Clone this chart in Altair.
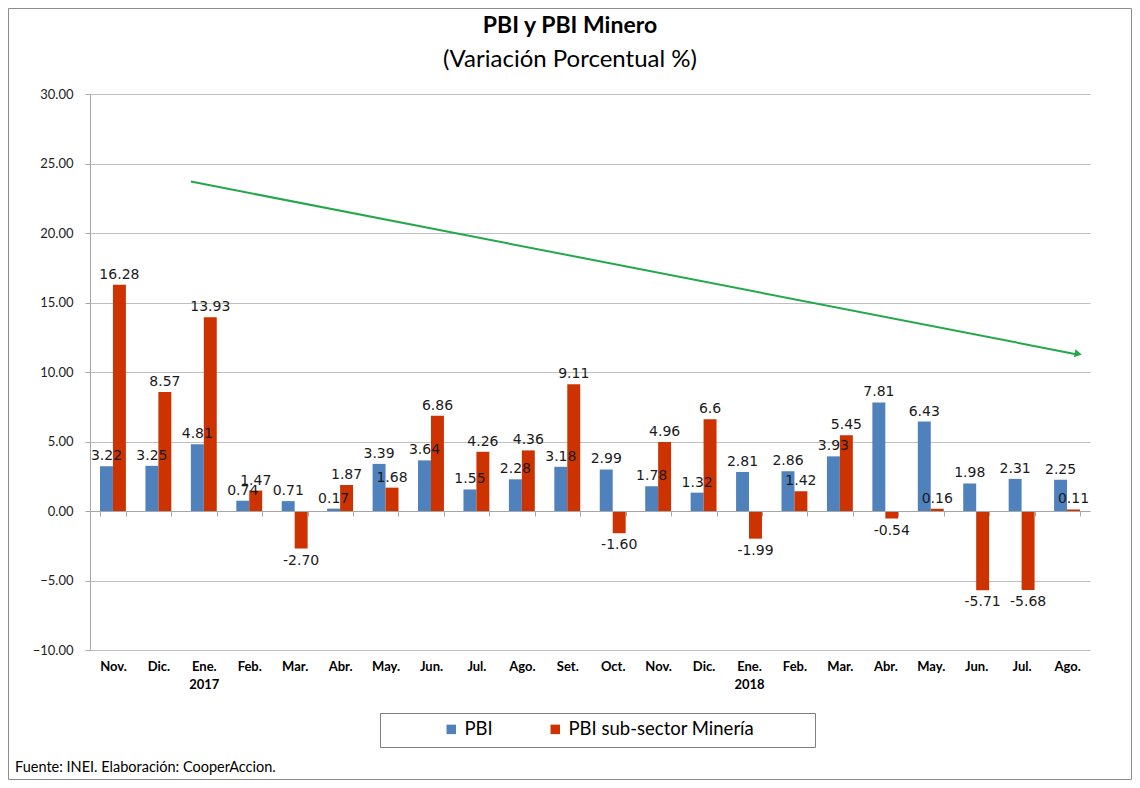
import json
import altair as alt
import pandas as pd

# ---------------- data ----------------
months = ["Nov.", "Dic.", "Ene.|2017", "Feb.", "Mar.", "Abr.", "May.", "Jun.", "Jul.",
          "Ago.", "Set.", "Oct.", "Nov.", "Dic.", "Ene.|2018", "Feb.", "Mar.", "Abr.",
          "May.", "Jun.", "Jul.", "Ago."]
pbi = [3.22, 3.25, 4.81, 0.74, 0.71, 0.17, 3.39, 3.64, 1.55, 2.28, 3.18, 2.99,
       1.78, 1.32, 2.81, 2.86, 3.93, 7.81, 6.43, 1.98, 2.31, 2.25]
mineria = [16.28, 8.57, 13.93, 1.47, -2.70, 1.87, 1.68, 6.86, 4.26, 4.36, 9.11, -1.60,
           4.96, 6.6, -1.99, 1.42, 5.45, -0.54, 0.16, -5.71, -5.68, 0.11]
mineria_labels = ["16.28", "8.57", "13.93", "1.47", "-2.70", "1.87", "1.68", "6.86",
                  "4.26", "4.36", "9.11", "-1.60", "4.96", "6.6", "-1.99", "1.42",
                  "5.45", "-0.54", "0.16", "-5.71", "-5.68", "0.11"]
series = ["PBI", "PBI sub-sector Minería"]
colors = ["#4F81BD", "#CC3300"]
y_ticks = [-10, -5, 0, 5, 10, 15, 20, 25, 30]
# trend arrow: from month index 2 (Ene. 2017) to month index 21 (Ago. 2018), values in %
trend_start = dict(i=2, y=23.7)
trend_end = dict(i=21, y=11.3)
title_txt = "PBI y PBI Minero"
subtitle_txt = "(Variación Porcentual %)"
source_txt = "Fuente: INEI. Elaboración: CooperAccion."

rows = []
for i in range(len(months)):
    rows.append(dict(idx=i, serie=series[0], value=pbi[i], label=f"{pbi[i]:.2f}"))
    rows.append(dict(idx=i, serie=series[1], value=mineria[i], label=mineria_labels[i]))
df = pd.DataFrame(rows)
trend = pd.DataFrame({"i0": [trend_start["i"]], "y0": [trend_start["y"]],
                      "i1": [trend_end["i"]], "y1": [trend_end["y"]]})

W, H = 1000, 556
FONT = "Lato"
NUMFONT = "DejaVu Sans"

label_expr = (f"isValid(datum.value) && datum.value >= 0 && datum.value < {len(months)} ? "
              f"split({json.dumps(months)}[datum.value], '|') : ''")

xscale = alt.Scale(paddingInner=0.43, paddingOuter=0.22)
yscale = alt.Scale(domain=[-10, 30], nice=False)
xoff = alt.XOffset("serie:N", scale=alt.Scale(domain=series, paddingInner=0))

x_enc = alt.X("idx:O", scale=xscale,
              axis=alt.Axis(title=None, orient="bottom", offset=-139, labelExpr=label_expr,
                            tickBand="extent", tickSize=5, tickColor="#A6A6A6",
                            domainColor="#A6A6A6", labelPadding=144, labelAngle=0,
                            labelFont=FONT, labelFontWeight="bold", labelFontSize=13,
                            labelColor="#000", labelLineHeight=18, grid=False, zindex=1))
y_enc = alt.Y("value:Q", scale=yscale,
              axis=alt.Axis(title=None, values=y_ticks, format=".2f", grid=True,
                            gridColor="#BFBFBF", domainColor="#A6A6A6", tickColor="#A6A6A6",
                            tickSize=5, labelPadding=12, labelFont=FONT, labelFontSize=13,
                            labelColor="#222"))

base = alt.Chart(df)
bars = base.mark_bar().encode(
    x=x_enc,
    xOffset=xoff,
    y=y_enc,
    color=alt.Color("serie:N", scale=alt.Scale(domain=series, range=colors),
                    legend=alt.Legend(title=None, orient="none", legendX=352, legendY=626,
                                      direction="horizontal", symbolType="square",
                                      symbolSize=90, symbolStrokeWidth=0, labelLimit=0,
                                      labelFont=FONT, labelFontSize=18.5, labelColor="#000",
                                      columnPadding=53, padding=0)),
)
# no axis=None in the other layers: an explicit null would disable the shared axes
txt_enc = dict(
    x=alt.X("idx:O", scale=xscale),
    xOffset=xoff,
    y=alt.Y("value:Q", scale=yscale),
    text="label:N",
)
pos_txt = base.transform_filter("datum.value >= 0").mark_text(
    baseline="bottom", dy=-3, font=NUMFONT, fontSize=14, color="#1a1a1a").encode(**txt_enc)
neg_txt = base.transform_filter("datum.value < 0").mark_text(
    baseline="top", dy=5, font=NUMFONT, fontSize=14, color="#1a1a1a").encode(**txt_enc)

arrow_line = alt.Chart(trend).mark_rule(color="#22A84A", strokeWidth=2).encode(
    x=alt.X("i0:O", scale=xscale, bandPosition=0),
    x2=alt.X2("i1", bandPosition=0.8),
    y=alt.Y("y0:Q", scale=yscale),
    y2="y1",
)
arrow_head = alt.Chart(trend).mark_point(
    shape="triangle-right", filled=True, color="#22A84A", size=70, angle=11, opacity=1
).encode(
    x=alt.X("i1:O", scale=xscale, bandPosition=0.93),
    y=alt.Y("y1:Q", scale=yscale),
)

one = pd.DataFrame({"a": [0]})
frame = alt.Chart(one).mark_rect(fill="transparent", stroke="#8C8C8C", strokeWidth=1).encode(
    x=alt.value(-81.5), x2=alt.value(1041.5), y=alt.value(-85.5), y2=alt.value(685.5))
legend_box = alt.Chart(one).mark_rect(fill="white", stroke="#7F7F7F", strokeWidth=1).encode(
    x=alt.value(290.5), x2=alt.value(725.5), y=alt.value(619.5), y2=alt.value(653.5))
source = alt.Chart(pd.DataFrame({"t": [source_txt]})).mark_text(
    align="left", baseline="alphabetic", font=FONT, fontSize=14.5, color="#000").encode(
    text="t:N", x=alt.value(-75), y=alt.value(678))

chart = alt.layer(frame, legend_box, bars, pos_txt, neg_txt, arrow_line, arrow_head,
                  source).properties(
    width=W, height=H,
    autosize=alt.AutoSizeParams(type="none"),
    padding={"left": 82, "top": 86, "right": 42, "bottom": 130},
    title=alt.TitleParams(title_txt, subtitle=subtitle_txt, font=FONT, fontSize=23,
                          fontWeight="bold", color="#000", subtitleFont=FONT,
                          subtitleFontSize=24, subtitleColor="#000", anchor="middle",
                          dx=-20, offset=-64, subtitlePadding=10),
).configure(background="white", view=alt.ViewConfig(stroke="transparent", strokeWidth=0))

chart.save("out.html", embed_options={"renderer": "svg", "actions": False})
